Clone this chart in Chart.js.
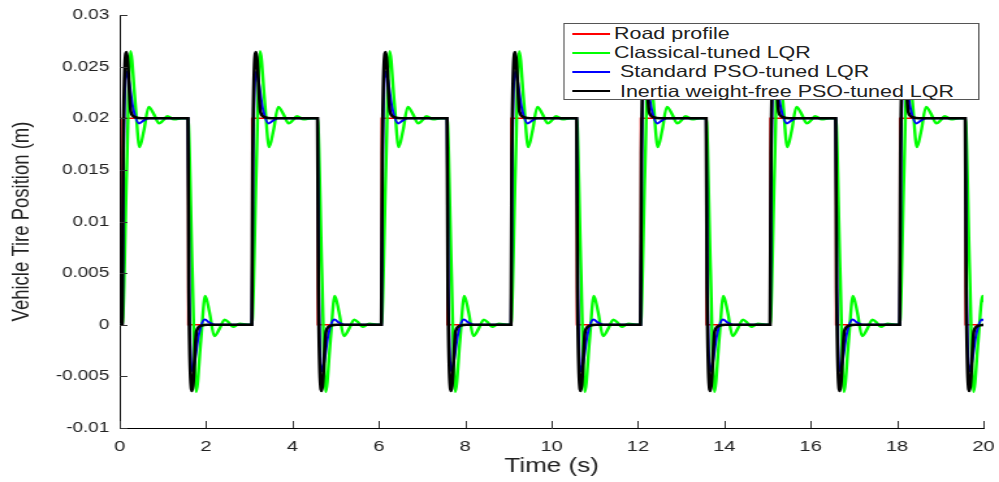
<!DOCTYPE html>
<html lang="en">
<head>
<meta charset="utf-8">
<title>Vehicle Tire Position</title>
<script src="https://cdn.jsdelivr.net/npm/chart.js@4.4.1/dist/chart.umd.min.js"></script>
<style>
  html, body { margin: 0; padding: 0; background: #fff; overflow: hidden; }
  /* the original figure is stretched sideways, so the whole plot is drawn narrow and scaled */
  #wrap { position: absolute; left: 0; top: 0; width: 768px; height: 482px;
          transform: scaleX(1.3008); transform-origin: 0 0; }
  #legend { position: absolute; left: 433px; top: 23px; width: 320px; height: 77px;
            box-sizing: border-box; border: 1px solid #555; background: #fff;
            font-family: "Liberation Sans", Arial, sans-serif; font-size: 16.5px; color: #222; }
  #legend .row { height: 19.2px; display: flex; align-items: center; white-space: pre; }
  #legend .swatch { flex: none; width: 29px; height: 2px; margin-left: 6px; margin-right: 3px; }
</style>
</head>
<body>
<div id="wrap">
  <canvas id="tireChart" width="768" height="482"></canvas>
  <div id="legend"></div>
</div>

<script>
// ---- data ----
const seriesNames = ['Road profile', 'Classical-tuned LQR', ' Standard PSO-tuned LQR', ' Inertia weight-free PSO-tuned LQR'];
const seriesColors = ['#ff0000', '#00ff00', '#0000ff', '#000000'];

const xTicks = [0, 2, 4, 6, 8, 10, 12, 14, 16, 18, 20];
const yTicks = [-0.01, -0.005, 0, 0.005, 0.01, 0.015, 0.02, 0.025, 0.03];
const yTickLabels = ['-0.01', '-0.005', '0', '0.005', '0.01', '0.015', '0.02', '0.025', '0.03'];

// road bump edges (s) and height (m)
const riseTimes = [0.06, 3.06, 6.06, 9.06, 12.06, 15.06, 18.06];
const fallTimes = [1.58, 4.58, 7.58, 10.58, 13.58, 16.58, 19.58];
const bumpHeight = 0.02;

// responses to a rising edge: seconds after the edge -> tire position (m)
// (the falling edge is the same curve upside down)
const classicalDt = [0, 0.1, 0.19, 0.3, 0.4, 0.5, 0.61, 0.73, 0.85, 0.95, 1.04, 1.2, 1.38];
const classicalY  = [0, 0.0145, 0.0265, 0.0215, 0.0172, 0.0188, 0.0211, 0.0204, 0.0195, 0.0198, 0.0202, 0.0199, 0.02];

const standardDt = [0, 0.03, 0.1, 0.16, 0.25, 0.39, 0.5, 0.62];
const standardY  = [0, 0.016, 0.0245, 0.0235, 0.021, 0.0195, 0.0198, 0.02];

const inertiaDt = [0, 0.02, 0.1, 0.2, 0.3, 0.45];
const inertiaY  = [0, 0.0165, 0.0264, 0.0206, 0.0201, 0.02];

// ---- build the point lists ----
function roadPoints() {
  var pts = [{x: 0, y: 0}];
  for (var k = 0; k < riseTimes.length; k++) {
    pts.push({x: riseTimes[k], y: 0}, {x: riseTimes[k], y: bumpHeight});
    pts.push({x: fallTimes[k], y: bumpHeight}, {x: fallTimes[k], y: 0});
  }
  pts.push({x: 20, y: 0});
  return pts;
}

function responsePoints(dts, vals) {
  var pts = [{x: 0, y: 0}];
  for (var k = 0; k < riseTimes.length; k++) {
    dts.forEach((dt, i) => pts.push({x: riseTimes[k] + dt, y: vals[i]}));
    dts.forEach((dt, i) => pts.push({x: fallTimes[k] + dt, y: bumpHeight - vals[i]}));
  }
  return pts.filter(p => p.x <= 20.7);
}

// inward tick marks like the original axes
const inwardTicks = {
  id: 'inwardTicks',
  afterDatasetsDraw(chart) {
    const {ctx, chartArea, scales} = chart;
    ctx.save();
    ctx.strokeStyle = '#333';
    ctx.lineWidth = 1;
    ctx.beginPath();
    xTicks.forEach(v => {
      const px = Math.round(scales.x.getPixelForValue(v)) + 0.5;
      ctx.moveTo(px, chartArea.bottom);
      ctx.lineTo(px, chartArea.bottom - 7);
    });
    yTicks.forEach(v => {
      const py = Math.round(scales.y.getPixelForValue(v)) + 0.5;
      ctx.moveTo(chartArea.left, py);
      ctx.lineTo(chartArea.left + 6, py);
    });
    ctx.stroke();
    ctx.restore();
  }
};

const fontFamily = '"Liberation Sans", Arial, sans-serif';

var ctx = document.getElementById('tireChart').getContext('2d');
var tireChart = new Chart(ctx, {
  type: 'line',
  data: {
    datasets: [
      { label: seriesNames[0], data: roadPoints(), borderColor: seriesColors[0], borderWidth: 1.3, tension: 0, order: 4 },
      { label: seriesNames[1], data: responsePoints(classicalDt, classicalY), borderColor: seriesColors[1], borderWidth: 2.4, cubicInterpolationMode: 'monotone', order: 3 },
      { label: seriesNames[2], data: responsePoints(standardDt, standardY), borderColor: seriesColors[2], borderWidth: 2, cubicInterpolationMode: 'monotone', order: 2 },
      { label: seriesNames[3], data: responsePoints(inertiaDt, inertiaY), borderColor: seriesColors[3], borderWidth: 2.6, cubicInterpolationMode: 'monotone', order: 1 }
    ]
  },
  options: {
    responsive: false,
    animation: false,
    events: [],
    elements: { point: { radius: 0 } },
    layout: { padding: { left: 0, right: 12, top: 15, bottom: 0 } },
    plugins: { legend: { display: false }, tooltip: { enabled: false } },
    scales: {
      x: {
        type: 'linear', min: 0, max: 20,
        afterFit: s => { s.height = 54; },
        afterBuildTicks: s => { s.ticks = xTicks.map(v => ({value: v})); },
        grid: { display: false },
        border: { display: true, color: '#000', width: 1 },
        ticks: { color: '#222', padding: 1, maxRotation: 0, autoSkip: false,
                 font: { family: fontFamily, size: 15.5 }, callback: v => String(v) },
        title: { display: true, text: 'Time (s)', color: '#222',
                 font: { family: fontFamily, size: 20 }, padding: { top: 0, bottom: 4 } }
      },
      y: {
        type: 'linear', min: -0.01, max: 0.03,
        afterFit: s => { s.width = 92; },
        afterBuildTicks: s => { s.ticks = yTicks.map(v => ({value: v})); },
        grid: { display: false },
        border: { display: true, color: '#000', width: 1 },
        ticks: { color: '#222', padding: 0, autoSkip: false,
                 font: { family: fontFamily, size: 14.5 },
                 callback: (v, i) => yTickLabels[i] },
        title: { display: true, text: 'Vehicle Tire Position (m)', color: '#222',
                 font: { family: fontFamily, size: 18.5 }, padding: { top: 6, bottom: 0 } }
      }
    }
  },
  plugins: [inwardTicks]
});

// legend box inside the plot, top right
var legendBox = document.getElementById('legend');
seriesNames.forEach((name, i) => {
  var row = document.createElement('div');
  row.className = 'row';
  var sw = document.createElement('span');
  sw.className = 'swatch';
  sw.style.background = seriesColors[i];
  row.appendChild(sw);
  row.appendChild(document.createTextNode(name));
  legendBox.appendChild(row);
});
</script>
</body>
</html>
